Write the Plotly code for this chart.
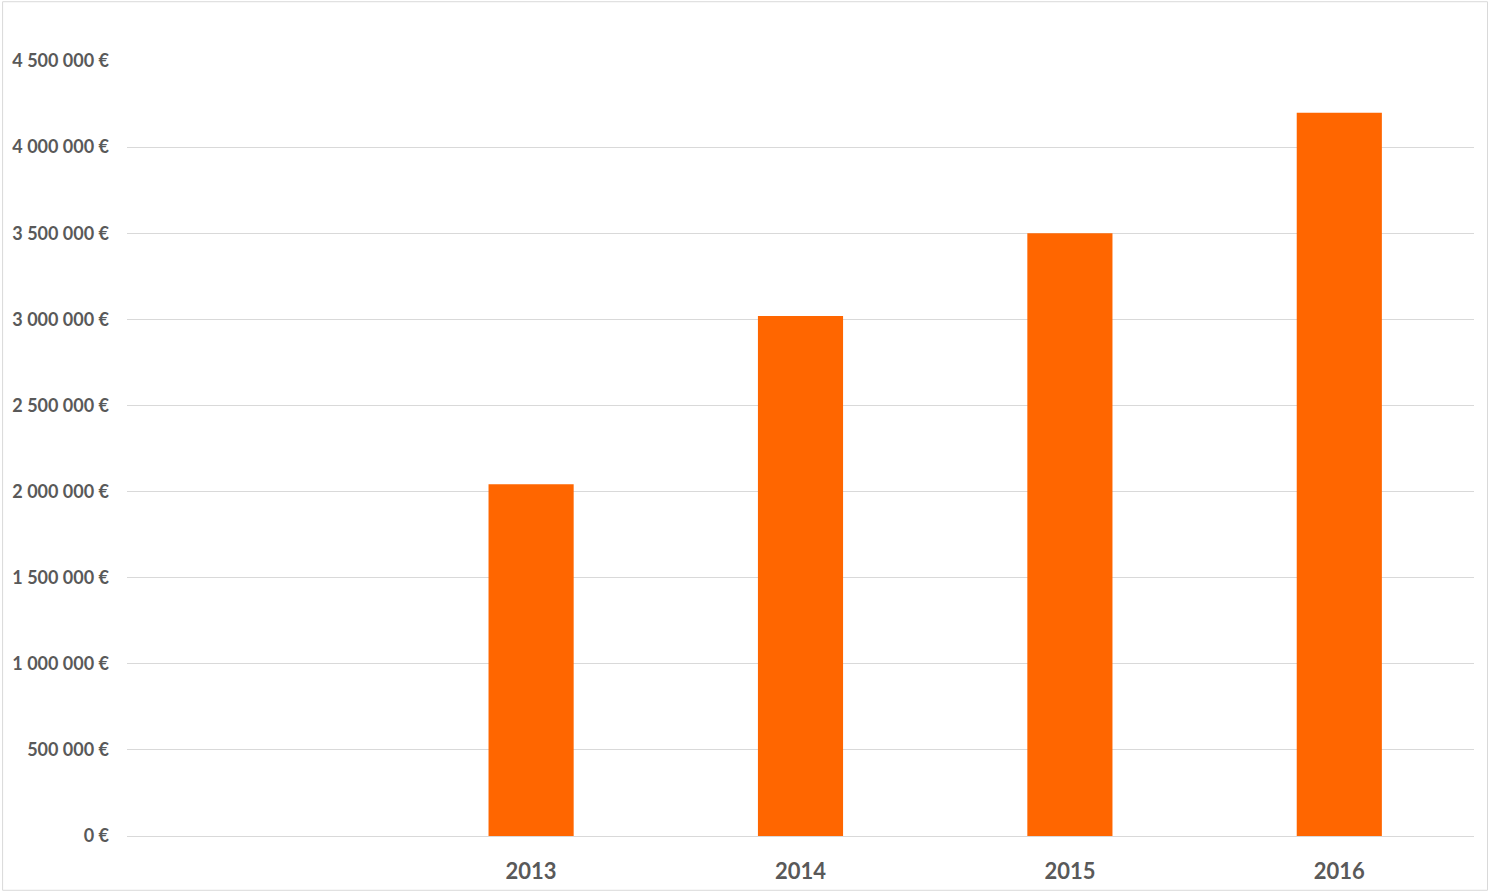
import plotly.graph_objects as go

categories = [" ", "2013", "2014", "2015", "2016"]
revenue = [None, 2042000, 3020000, 3500000, 4200000]
tick_vals = [0, 500000, 1000000, 1500000, 2000000, 2500000, 3000000, 3500000, 4000000, 4500000]
tick_text = ["0 €", "500 000 €", "1 000 000 €", "1 500 000 €", "2 000 000 €",
             "2 500 000 €", "3 000 000 €", "3 500 000 €", "4 000 000 €", "4 500 000 €"]

W, H = 1490, 896
ml, mr, mt, mb = 126, 16, 61, 57

fig = go.Figure(go.Bar(x=categories, y=revenue, marker=dict(color="#ff6600", line=dict(width=0)),
                       hoverinfo="x+y"))

fig.update_layout(
    width=W, height=H, autosize=False,
    margin=dict(l=ml, r=mr, t=mt, b=mb),
    paper_bgcolor="white", plot_bgcolor="white",
    bargap=0.684,
    showlegend=False,
    font=dict(family="Lato, 'Open Sans', sans-serif", color="#595959"),
    xaxis=dict(type="category", categoryorder="array", categoryarray=categories,
               showgrid=False, showline=False, zeroline=False,
               tickfont=dict(size=22, color="#595959", family="Lato, 'Open Sans', sans-serif", weight="bold"),
               ticks="", ticklabelstandoff=20),
    yaxis=dict(range=[0, 4500000], tickvals=tick_vals, ticktext=tick_text,
               showgrid=True, gridcolor="#d9d9d9", gridwidth=1,
               zeroline=True, zerolinecolor="#d9d9d9", zerolinewidth=1,
               showline=False, ticks="",
               tickfont=dict(size=18, color="#595959", family="Lato, 'Open Sans', sans-serif", weight="bold"),
               ticklabelstandoff=17),
)

# outer chart border
pw = W - ml - mr
ph = H - mt - mb
fig.add_shape(type="rect", xref="paper", yref="paper",
              x0=(1.5 - ml) / pw, x1=(W - 2.5 - ml) / pw,
              y0=-(mb - 2.5) / ph, y1=1 + (mt - 1.5) / ph,
              line=dict(color="#d9d9d9", width=1), layer="below")

post = (
    "document.documentElement.style.overflow='hidden';"
    "document.body.style.margin='0';"
    "document.body.style.overflow='hidden';"
)

fig.write_html("out.html",
               config={"displayModeBar": False, "responsive": False},
               post_script=post)
